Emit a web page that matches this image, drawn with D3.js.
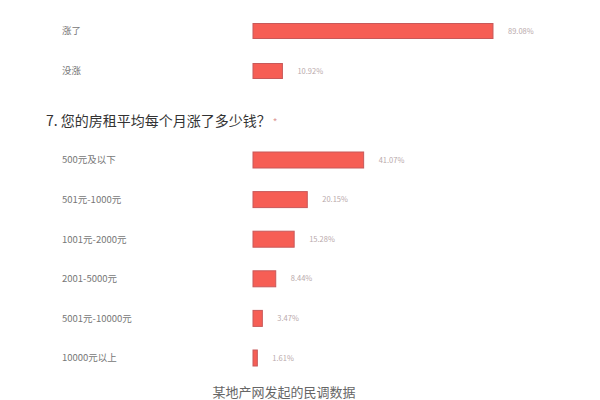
<!DOCTYPE html>
<html>
<head>
<meta charset="utf-8">
<script src="https://cdn.jsdelivr.net/npm/d3@7"></script>
<style>
  html, body { margin: 0; padding: 0; background: #fff; }
  svg { display: block; font-family: "Noto Sans CJK SC", "Noto Sans", sans-serif; }
</style>
</head>
<body>
<svg id="chart" width="600" height="400"></svg>
<script>
  // question 6 (top, partly cut off)
  const q6Categories = ['涨了', '没涨'];
  const q6Values = [89.08, 10.92];

  // question 7
  const q7Title = '7. 您的房租平均每个月涨了多少钱？';
  const q7Categories = ['500元及以下', '501元-1000元', '1001元-2000元', '2001-5000元', '5001元-10000元', '10000元以上'];
  const q7Values = [41.07, 20.15, 15.28, 8.44, 3.47, 1.61];

  const caption = '某地产网发起的民调数据';

  const svg = d3.select('#chart');
  const barLeft = 253;
  const x = d3.scaleLinear().domain([0, 100]).range([barLeft, barLeft + 269.4]);

  function drawGroup(cats, vals, top, bottom, barH) {
    const y = d3.scaleBand().domain(cats).range([top, bottom]).paddingInner(0).paddingOuter(0);
    const g = svg.append('g');
    const rows = g.selectAll('g.row')
      .data(cats.map(function (c, i) { return { cat: c, val: vals[i] }; }))
      .enter()
      .append('g')
      .attr('class', 'row');

    rows.append('text')
      .attr('x', 62)
      .attr('y', function (d) { return y(d.cat) + y.bandwidth() / 2; })
      .attr('dy', '0.35em')
      .attr('font-size', 9.5)
      .attr('fill', '#777')
      .text(function (d) { return d.cat; });

    rows.append('rect')
      .attr('x', x(0))
      .attr('y', function (d) { return y(d.cat) + y.bandwidth() / 2 - barH / 2; })
      .attr('width', function (d) { return Math.max(3, x(d.val) - x(0)); })
      .attr('height', barH)
      .attr('fill', '#f65e55')
      .attr('stroke', '#c8595a')
      .attr('stroke-width', 1);

    rows.append('text')
      .attr('x', function (d) { return Math.max(x(0) + 3, x(d.val)) + 15; })
      .attr('y', function (d) { return y(d.cat) + y.bandwidth() / 2; })
      .attr('dy', '0.35em')
      .attr('font-size', 7.5)
      .attr('fill', '#b9a9ab')
      .text(function (d) { return d.val.toFixed(2) + '%'; });
  }

  drawGroup(q6Categories, q6Values, 11, 91, 15);

  const title = svg.append('text')
    .attr('x', 46)
    .attr('y', 121)
    .attr('dy', '0.35em')
    .attr('font-size', 14)
    .attr('fill', '#333');
  title.append('tspan').text(q7Title);
  title.append('tspan').attr('fill', '#d99').attr('font-size', 10).attr('dx', 2).text('*');

  drawGroup(q7Categories, q7Values, 140.2, 377.8, 16);

  svg.append('text')
    .attr('x', 284)
    .attr('y', 392)
    .attr('dy', '0.35em')
    .attr('text-anchor', 'middle')
    .attr('font-size', 13)
    .attr('fill', '#666')
    .text(caption);
</script>
</body>
</html>
